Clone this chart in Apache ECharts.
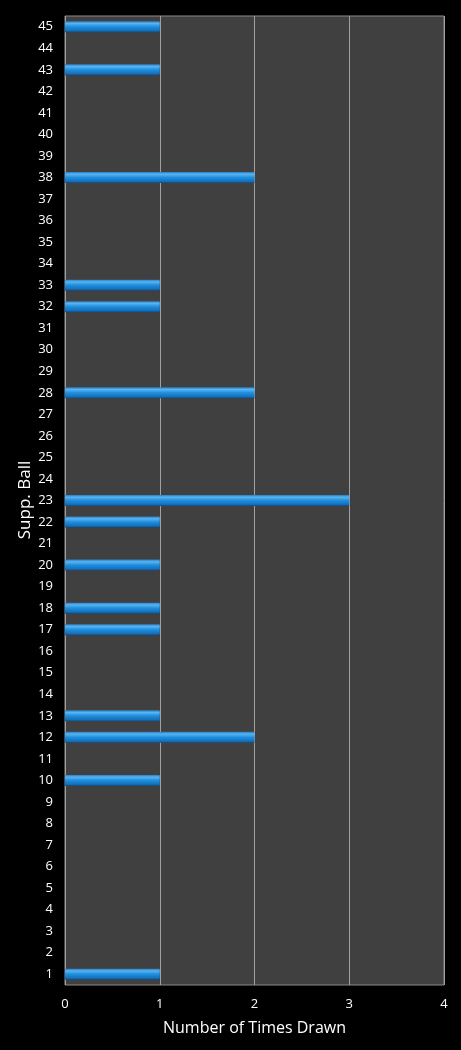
<!DOCTYPE html>
<html>
<head>
<meta charset="utf-8">
<script src="https://cdn.jsdelivr.net/npm/echarts@6/dist/echarts.min.js"></script>
<style>
  html, body { margin: 0; padding: 0; background: #000; }
  #container { width: 461px; height: 1050px; }
</style>
</head>
<body>
<div id="container"></div>
<script>
var balls = [];
for (var b = 1; b <= 45; b++) balls.push(String(b));

// times drawn per supp. ball (1..45)
var timesDrawn = [
  1, 0, 0, 0, 0, 0, 0, 0, 0, 1,
  0, 2, 1, 0, 0, 0, 1, 1, 0, 1,
  0, 1, 3, 0, 0, 0, 0, 2, 0, 0,
  0, 1, 1, 0, 0, 0, 0, 2, 0, 0,
  0, 0, 1, 0, 1
];

var xTicks = [0, 1, 2, 3, 4];

var myChart = echarts.init(document.getElementById("container"));

var barColor = new echarts.graphic.LinearGradient(0, 0, 0, 1, [
  { offset: 0, color: "#2a7fc6" },
  { offset: 0.2, color: "#5ab4f0" },
  { offset: 0.5, color: "#1d8ee0" },
  { offset: 0.85, color: "#1670b8" },
  { offset: 1, color: "#0e4a80" }
]);

var option = {
  backgroundColor: "#000",
  animation: false,
  grid: {
    left: 65,
    right: 17,
    top: 16,
    bottom: 65,
    show: true,
    backgroundColor: "#404040",
    borderColor: "#8a8a8a",
    borderWidth: 1
  },
  // y axis title placed by hand, the axis name wanders off with the labels
  graphic: [
    {
      type: "text",
      x: 25,
      y: 500,
      rotation: Math.PI / 2,
      style: {
        text: "Supp. Ball",
        fill: "#fff",
        font: "17px 'Open Sans'",
        align: "center",
        verticalAlign: "middle"
      }
    }
  ],
  xAxis: {
    type: "value",
    min: xTicks[0],
    max: xTicks[xTicks.length - 1],
    interval: 1,
    name: "Number of Times Drawn",
    nameLocation: "middle",
    nameGap: 35,
    nameTextStyle: { color: "#fff", fontSize: 16, fontFamily: "Open Sans" },
    axisLine: { show: false },
    axisTick: { show: false },
    axisLabel: { color: "#fff", fontSize: 13, fontFamily: "Open Sans", margin: 13 },
    splitLine: { show: true, lineStyle: { color: "#a0a0a0", width: 1 } }
  },
  yAxis: {
    type: "category",
    data: balls,
    axisLine: { show: false },
    axisTick: { show: false },
    axisLabel: { color: "#fff", fontSize: 13, fontFamily: "Open Sans", margin: 12, interval: 0 },
    splitLine: { show: false }
  },
  series: [
    {
      type: "bar",
      data: timesDrawn,
      barWidth: 11,
      itemStyle: {
        color: barColor,
        borderWidth: 0
      }
    }
  ]
};

myChart.setOption(option);
</script>
</body>
</html>
